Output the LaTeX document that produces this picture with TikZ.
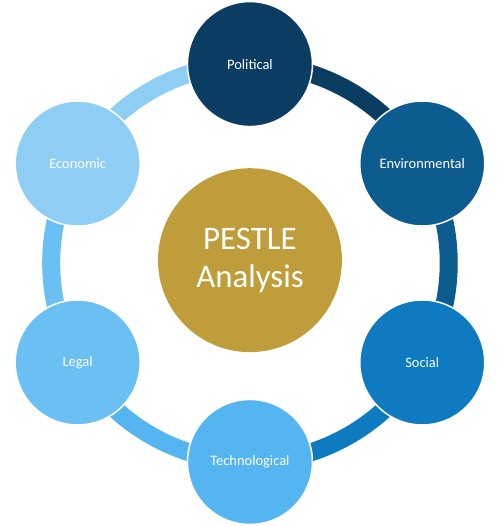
\documentclass[tikz,border=0pt]{standalone}
\usepackage{fontspec}
\setmainfont{Carlito}
\usepackage{tikz}
\usetikzlibrary{backgrounds}

\definecolor{polcol}{HTML}{0B3D62}
\definecolor{envcol}{HTML}{0D5C8F}
\definecolor{soccol}{HTML}{0E7BC0}
\definecolor{techcol}{HTML}{55B5F0}
\definecolor{legalcol}{HTML}{6ABFF3}
\definecolor{econcol}{HTML}{8ECEF5}
\definecolor{pestlecol}{HTML}{BE9D3A}

\begin{document}
\begin{tikzpicture}[
  every node/.style={font=\fontsize{14.5}{17}\selectfont, text=white},
  factor/.style={circle, draw=white, line width=1.5pt, minimum size=4.41cm,
    inner sep=0pt, align=center},
  hub/.style={circle, fill=pestlecol, minimum size=6.49cm, inner sep=0pt,
    align=center, font=\fontsize{33}{38}\selectfont},
  ring/.style={line width=18bp, bend left=30, looseness=0.91}
]
  \useasboundingbox (-8.82,-9.28) rectangle (8.96,9.28);

  % Centre
  \node[hub] (pestle) at (0,0.1) {PESTLE\\Analysis};

  % Six factors round the ring
  \node[factor, fill=polcol] (pol) at (90:7.02) {Political};
  \node[factor, fill=envcol] (env) at (30:7.02) {Environmental};
  \node[factor, fill=soccol] (soc) at (-30:7.02) {Social};
  \node[factor, fill=techcol] (tech) at (-90:7.02) {Technological};
  \node[factor, fill=legalcol] (legal) at (-150:7.02) {Legal};
  \node[factor, fill=econcol] (econ) at (150:7.02) {Economic};

  % Ring segments behind the circles
  \begin{scope}[on background layer]
    \draw[ring, draw=polcol] (pol.center) to (env.center);
    \draw[ring, draw=envcol] (env.center) to (soc.center);
    \draw[ring, draw=soccol] (soc.center) to (tech.center);
    \draw[ring, draw=techcol] (tech.center) to (legal.center);
    \draw[ring, draw=legalcol] (legal.center) to (econ.center);
    \draw[ring, draw=econcol] (econ.center) to (pol.center);
  \end{scope}
\end{tikzpicture}
\end{document}
